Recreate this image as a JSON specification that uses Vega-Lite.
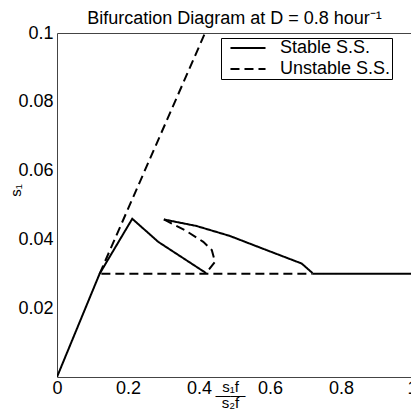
{
  "$schema": "https://vega.github.io/schema/vega-lite/v6.json",
  "autosize": {"type": "none"},
  "padding": {"left": 57, "top": 33, "right": 0, "bottom": 35},
  "width": 355,
  "height": 344,
  "background": "white",
  "config": {
    "font": "Liberation Sans",
    "view": {"stroke": "#444", "strokeWidth": 1}
  },
  "title": {
    "text": "Bifurcation Diagram at D = 0.8 hour⁻¹",
    "fontSize": 18,
    "fontWeight": "normal",
    "color": "black",
    "anchor": "middle",
    "offset": -4
  },
  "data": {
    "values": [
      {"seg": "A", "state": "Stable S.S.", "i": 0, "x": 0, "y": 0},
      {"seg": "A", "state": "Stable S.S.", "i": 1, "x": 0.12, "y": 0.03},
      {"seg": "A", "state": "Stable S.S.", "i": 2, "x": 0.212, "y": 0.046},
      {"seg": "A", "state": "Stable S.S.", "i": 3, "x": 0.285, "y": 0.0393},
      {"seg": "A", "state": "Stable S.S.", "i": 4, "x": 0.42, "y": 0.0302},
      {"seg": "B", "state": "Unstable S.S.", "i": 0, "x": 0.12, "y": 0.03},
      {"seg": "B", "state": "Unstable S.S.", "i": 1, "x": 0.417, "y": 0.1},
      {"seg": "C", "state": "Unstable S.S.", "i": 0, "x": 0.125, "y": 0.03},
      {"seg": "C", "state": "Unstable S.S.", "i": 1, "x": 0.72, "y": 0.03},
      {"seg": "D", "state": "Stable S.S.", "i": 0, "x": 0.72, "y": 0.03},
      {"seg": "D", "state": "Stable S.S.", "i": 1, "x": 1.0, "y": 0.03},
      {"seg": "E", "state": "Stable S.S.", "i": 0, "x": 0.72, "y": 0.0302},
      {"seg": "E", "state": "Stable S.S.", "i": 1, "x": 0.689, "y": 0.033},
      {"seg": "E", "state": "Stable S.S.", "i": 2, "x": 0.59, "y": 0.0369},
      {"seg": "E", "state": "Stable S.S.", "i": 3, "x": 0.487, "y": 0.041},
      {"seg": "E", "state": "Stable S.S.", "i": 4, "x": 0.393, "y": 0.0439},
      {"seg": "E", "state": "Stable S.S.", "i": 5, "x": 0.301, "y": 0.0458},
      {"seg": "F", "state": "Unstable S.S.", "i": 0, "x": 0.301, "y": 0.0458},
      {"seg": "F", "state": "Unstable S.S.", "i": 1, "x": 0.36, "y": 0.0427},
      {"seg": "F", "state": "Unstable S.S.", "i": 2, "x": 0.412, "y": 0.0393},
      {"seg": "F", "state": "Unstable S.S.", "i": 3, "x": 0.436, "y": 0.0369},
      {"seg": "F", "state": "Unstable S.S.", "i": 4, "x": 0.445, "y": 0.0335},
      {"seg": "F", "state": "Unstable S.S.", "i": 5, "x": 0.42, "y": 0.0302}
    ]
  },
  "mark": {"type": "line", "color": "black", "strokeWidth": 2, "clip": true},
  "encoding": {
    "x": {
      "field": "x", "type": "quantitative",
      "scale": {"domain": [0, 1], "nice": false, "zero": false},
      "axis": {
        "values": [0, 0.2, 0.4, 0.6, 0.8, 1],
        "format": "~g",
        "grid": false, "ticks": false, "domain": false,
        "labelFontSize": 18, "labelColor": "black", "labelPadding": 2,
        "labelFlush": false,
        "title": ["s₁f", "――", "s₂f"],
        "titleFontSize": 15, "titleFontWeight": "normal", "titleColor": "black",
        "titleX": 173, "titleY": 2, "titleAnchor": "middle", "titleBaseline": "top",
        "titleLineHeight": 8
      }
    },
    "y": {
      "field": "y", "type": "quantitative",
      "scale": {"domain": [0, 0.1], "nice": false},
      "axis": {
        "values": [0.02, 0.04, 0.06, 0.08, 0.1],
        "format": "~g",
        "grid": false, "ticks": false, "domain": false,
        "labelFontSize": 18, "labelColor": "black", "labelPadding": 4,
        "labelFlush": false,
        "title": "s₁",
        "titleFontSize": 15, "titleFontWeight": "normal", "titleColor": "black",
        "titleX": -34, "titleY": 157, "titleAnchor": "middle"
      }
    },
    "detail": {"field": "seg"},
    "order": {"field": "i", "type": "quantitative"},
    "strokeDash": {
      "field": "state", "type": "nominal",
      "scale": {"domain": ["Stable S.S.", "Unstable S.S."], "range": [[1, 0], [9, 5]]},
      "legend": {
        "title": null,
        "orient": "none",
        "legendX": 164,
        "legendY": 5,
        "symbolType": "M-2.19,0H2.19",
        "symbolStrokeColor": "black",
        "symbolFillColor": "transparent",
        "symbolStrokeWidth": 2,
        "symbolSize": 256,
        "symbolOffset": 17,
        "labelFontSize": 18,
        "labelColor": "black",
        "labelOffset": 23,
        "labelExpr": "datum.label + '\u00a0\u00a0'",
        "rowPadding": 3,
        "padding": 1,
        "strokeColor": "black",
        "fillColor": "white"
      }
    }
  }
}
